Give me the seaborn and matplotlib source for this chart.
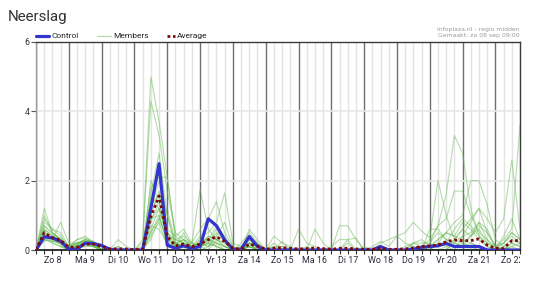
import numpy as np
import pandas as pd
import matplotlib
matplotlib.use("Agg")
import matplotlib.pyplot as plt
import seaborn as sns
from matplotlib.lines import Line2D
from matplotlib.transforms import Bbox

# ---------------- data (6-hourly steps, starting zo 08 sep 00:00) ----------------
day_labels = ["Zo 8", "Ma 9", "Di 10", "Wo 11", "Do 12", "Vr 13", "Za 14", "Zo 15",
              "Ma 16", "Di 17", "Wo 18", "Do 19", "Vr 20", "Za 21", "Zo 22"]

control = [0, 0.38, 0.35, 0.25,  0.03, 0.02, 0.2, 0.19,  0.13, 0.02, 0, 0,
           0, 0, 1.2, 2.49,  0.14, 0.05, 0.12, 0.05,  0.1, 0.9, 0.7, 0.29,
           0.02, 0.02, 0.39, 0.1,  0, 0, 0, 0,  0, 0, 0, 0,  0, 0, 0, 0,
           0, 0, 0.1, 0,  0, 0, 0.02, 0.08,  0.1, 0.12, 0.19, 0.1,
           0.1, 0.1, 0.1, 0,  0, 0, 0, 0]

average = [0, 0.5, 0.35, 0.28,  0.08, 0.08, 0.17, 0.17,  0.1, 0.03, 0.03, 0.03,
           0.01, 0.02, 0.96, 1.56,  0.39, 0.12, 0.17, 0.1,  0.17, 0.3, 0.38, 0.25,
           0.05, 0.02, 0.17, 0.12,  0.02, 0.05, 0.07, 0.05,  0.03, 0.04, 0.06, 0.04,
           0.02, 0.05, 0.05, 0.03,  0.02, 0.02, 0.05, 0.02,  0.02, 0.03, 0.06, 0.1,
           0.12, 0.14, 0.24, 0.29,  0.27, 0.27, 0.32, 0.14,  0.05, 0.05, 0.27, 0.27]

member_01 = [0, 1.2, 0.5, 0.3,  0.1, 0.2, 0.3, 0.2,  0, 0, 0, 0,  0, 0.3, 5.0, 3.7,
             2.1, 0.3, 0.2, 0.1,  0.3, 0.2, 0.1, 0,  0, 0, 0.2, 0.1,  0, 0.1, 0, 0,
             0, 0, 0, 0,  0, 0, 0, 0,  0, 0, 0.1, 0,  0, 0, 0, 0,
             0.2, 0.5, 0.3, 0.2,  0.1, 0.2, 0.1, 0,  0, 0, 0.2, 0.1]
member_02 = [0, 0.9, 0.6, 0.4,  0.1, 0.3, 0.4, 0.2,  0, 0, 0.1, 0,  0, 0.2, 4.3, 3.3,
             1.7, 0.5, 0.3, 0.1,  0.2, 0.1, 0.4, 0.3,  0, 0.1, 0.3, 0.1,  0, 0.4, 0.2, 0.1,
             0, 0.1, 0, 0,  0, 0, 0, 0,  0, 0, 0, 0,  0, 0, 0.2, 0.3,
             0.1, 0.3, 0.5, 0.4,  0.8, 0.6, 0.3, 0.1,  0, 0.2, 0.5, 0.3]
member_03 = [0, 0.7, 0.5, 0.3,  0.05, 0.15, 0.3, 0.25,  0, 0, 0, 0,  0, 0.1, 1.8, 2.1,
             2.1, 0.4, 0.6, 0.2,  1.75, 0.6, 0.3, 0.1,  0, 0, 0.1, 0,  0, 0, 0, 0,
             0, 0, 0, 0,  0, 0, 0, 0,  0, 0, 0, 0,  0, 0, 0.1, 0,
             0, 0.2, 0.1, 0,  0, 0, 0, 0,  0, 0, 0, 0]
member_04 = [0, 0.6, 0.4, 0.25,  0.1, 0.2, 0.2, 0.15,  0, 0, 0, 0,  0, 0, 1.2, 2.0,
             1.0, 0.2, 0.1, 0.2,  0.6, 0.9, 1.4, 0.5,  0.1, 0, 0.2, 0.1,  0, 0, 0, 0,
             0.6, 0.2, 0.1, 0,  0, 0, 0, 0,  0, 0, 0, 0,  0, 0, 0, 0,
             0, 0, 0, 0,  0, 0, 0, 0,  0, 0.1, 0.3, 0.2]
member_05 = [0, 0.5, 0.35, 0.2,  0, 0.1, 0.25, 0.2,  0, 0, 0, 0,  0, 0, 1.0, 1.7,
             0.5, 0.1, 0.3, 0.1,  0.4, 0.5, 0.8, 1.65,  0.2, 0.1, 0.3, 0.1,  0, 0, 0, 0,
             0, 0, 0.6, 0.2,  0, 0, 0, 0,  0, 0, 0, 0,  0, 0, 0, 0,
             0, 0, 0, 0,  0, 0, 0, 0,  0, 0, 0, 0]
member_06 = [0, 0.4, 0.3, 0.2,  0, 0.1, 0.2, 0.15,  0, 0, 0, 0,  0, 0, 0.8, 1.4,
             0.3, 0.1, 0.2, 0,  0.3, 0.3, 0.2, 0.1,  0, 0, 0.2, 0,  0, 0, 0, 0,
             0, 0, 0, 0,  0, 0, 0, 0,  0, 0, 0, 0,  0, 0, 0, 0.1,
             0.3, 0.7, 1.6, 3.3,  2.8, 1.2, 0.4, 0.1,  0, 0, 0.1, 0]
member_07 = [0, 0.3, 0.25, 0.2,  0, 0.15, 0.3, 0.2,  0, 0, 0.3, 0.1,  0, 0, 0.6, 1.2,
             0.5, 0.3, 0.4, 0.2,  0.1, 0.3, 0.2, 0,  0, 0, 0.1, 0,  0, 0.1, 0.1, 0,
             0, 0, 0, 0,  0, 0, 0, 0,  0, 0, 0.2, 0.3,  0.4, 0.5, 0.8, 0.55,
             0.35, 2.0, 1.0, 0.3,  0.2, 0.1, 0, 0,  0, 0, 0, 0]
member_08 = [0, 0.8, 0.6, 0.5,  0.1, 0.2, 0.25, 0.2,  0, 0, 0, 0,  0, 0, 0.5, 0.9,
             0.3, 0.2, 0.1, 0.05,  0.1, 0.2, 0.5, 0.3,  0.1, 0, 0.15, 0,  0, 0.2, 0, 0,
             0, 0, 0, 0,  0, 0, 0, 0,  0, 0, 0, 0,  0, 0.1, 0.2, 0.2,
             0.2, 0.7, 0.9, 1.7,  1.7, 1.0, 0.5, 0.3,  0.1, 0.2, 0.4, 0.2]
member_09 = [0, 0.5, 0.3, 0.8,  0.2, 0.2, 0.3, 0.2,  0, 0, 0, 0,  0, 0, 1.5, 1.2,
             0.4, 0.3, 0.2, 0.1,  0.2, 0.4, 0.3, 0.2,  0, 0, 0.1, 0,  0, 0, 0, 0,
             0, 0, 0, 0,  0, 0, 0, 0,  0, 0, 0, 0,  0, 0, 0, 0,
             0, 0.2, 0.5, 0.8,  1.0, 2.0, 2.0, 1.3,  0.3, 0.1, 0, 0]
member_10 = [0, 0.35, 0.3, 0.15,  0, 0.1, 0.15, 0.1,  0, 0, 0, 0,  0, 0, 0.9, 1.0,
             0.2, 0.1, 0.1, 0,  0.1, 0.2, 0.6, 0.3,  0, 0, 0.6, 0.3,  0, 0, 0, 0,
             0, 0, 0, 0,  0.1, 0.3, 0.3, 0.35,  0, 0, 0, 0,  0, 0, 0, 0,
             0, 0, 0.1, 0.3,  0.6, 0.9, 1.2, 0.9,  0.5, 0.9, 2.6, 0.6]
member_11 = [0, 0.6, 0.4, 0.3,  0.05, 0.1, 0.2, 0.2,  0, 0, 0.1, 0,  0, 0, 0.5, 1.0,
             0.2, 0.2, 0.3, 0.1,  0.1, 0.2, 0.1, 0,  0, 0, 0.2, 0,  0, 0, 0, 0,
             0, 0, 0, 0,  0, 0, 0, 0,  0, 0, 0, 0,  0, 0, 0, 0,
             0, 0, 0, 0.2,  0.4, 0.5, 0.8, 0.6,  0.1, 0.3, 0.6, 3.6]
member_12 = [0, 0.45, 0.2, 0.1,  0, 0.05, 0.1, 0.1,  0, 0, 0, 0,  0, 0, 0.4, 0.8,
             0.1, 0.05, 0.1, 0,  0, 0, 0.3, 0.1,  0, 0, 0.1, 0,  0, 0, 0, 0,
             0, 0, 0, 0,  0, 0.7, 0.7, 0.3,  0, 0, 0, 0,  0, 0, 0, 0,
             0.1, 0.3, 0.5, 0.4,  0.3, 0.2, 0.1, 0,  0, 0, 0, 0]
member_13 = [0, 0.3, 0.2, 0.1,  0, 0.1, 0.2, 0.15,  0, 0, 0, 0,  0, 0, 1.3, 1.6,
             0.6, 0.4, 0.2, 0.1,  0.2, 0.1, 0.2, 0.1,  0, 0.2, 0.5, 0.2,  0, 0, 0.25, 0,
             0, 0, 0, 0,  0, 0, 0.2, 0,  0.1, 0, 0, 0,  0, 0, 0, 0,
             0, 0, 0, 0.3,  0.6, 0.4, 0.8, 0.3,  0, 0.4, 0.9, 0.3]
member_14 = [0, 1.0, 0.5, 0.3,  0.05, 0.2, 0.25, 0.15,  0, 0, 0, 0,  0, 0, 0.7, 0.6,
             0.2, 0.1, 0.5, 0.1,  0.2, 0.3, 0.7, 0.4,  0, 0, 0.3, 0.1,  0, 0, 0, 0,
             0, 0, 0, 0,  0, 0, 0, 0,  0, 0, 0, 0,  0, 0, 0, 0,
             0.6, 0.6, 0.3, 0.2,  0.1, 0.4, 0.6, 0.2,  0.1, 0, 0.2, 0.1]
member_15 = [0, 0.25, 0.4, 0.3,  0.1, 0.1, 0.15, 0.1,  0, 0, 0, 0,  0, 0, 0.3, 0.9,
             1.2, 0.2, 0.1, 0,  0, 0.1, 0.4, 0.8,  0.1, 0, 0.2, 0.1,  0, 0, 0, 0,
             0, 0, 0, 0,  0, 0, 0, 0,  0, 0, 0, 0,  0, 0, 0.2, 0.1,
             0, 0.2, 0.2, 0.6,  0.9, 0.7, 0.4, 0.2,  0, 0, 0.1, 0.2]
member_16 = [0, 0.7, 0.45, 0.35,  0.1, 0.3, 0.35, 0.25,  0, 0, 0, 0,  0, 0, 2.0, 1.4,
             0.5, 0.2, 0.1, 0.05,  0.1, 0, 0, 0,  0, 0.1, 0.4, 0.2,  0, 0, 0, 0,
             0, 0, 0, 0,  0, 0, 0, 0,  0, 0.1, 0.25, 0.1,  0.4, 0.2, 0.1, 0,
             0, 0, 0, 0,  0, 0, 0, 0,  0, 0, 0, 0]
member_17 = [0, 0.55, 0.3, 0.2,  0, 0.1, 0.2, 0.1,  0, 0, 0, 0,  0, 0, 1.6, 2.8,
             1.0, 0.1, 0, 0,  0.1, 0.3, 0.1, 0,  0, 0, 0.2, 0,  0, 0, 0, 0,
             0, 0, 0, 0,  0, 0, 0, 0,  0, 0, 0, 0,  0, 0, 0, 0,
             0, 0, 0, 0,  0.4, 0.8, 1.2, 0.5,  0.1, 0.2, 0.5, 0.3]
member_18 = [0, 0.3, 0.25, 0.2,  0.05, 0.15, 0.2, 0.1,  0, 0, 0, 0,  0, 0, 0.9, 1.2,
             0.3, 0.2, 0.3, 0.2,  0.1, 0.4, 0.3, 0.2,  0, 0, 0.1, 0,  0, 0, 0.1, 0,
             0, 0, 0, 0,  0, 0, 0.3, 0,  0, 0, 0, 0,  0, 0, 0, 0,
             0.1, 0.1, 0.2, 0.1,  0.2, 0.4, 0.7, 0.5,  0.1, 0, 0, 0]

members = [member_01, member_02, member_03, member_04, member_05, member_06,
           member_07, member_08, member_09, member_10, member_11, member_12,
           member_13, member_14, member_15, member_16, member_17, member_18]

# time axis in days (6-hourly steps)
t = np.arange(len(control)) * 0.25

rows = []
for k, m in enumerate(members):
    for ti, v in zip(t, m):
        rows.append({"t": ti, "value": v, "member": k})
df_members = pd.DataFrame(rows)

# ---------------- style ----------------
sns.set_style("white")
plt.rcParams["font.family"] = ["Roboto", "DejaVu Sans"]

fig = plt.figure(figsize=(5.4, 2.83), dpi=100)
W, H = 540, 283
ax = fig.add_axes([36 / W, 33 / H, 484 / W, 208 / H])

n_days = len(day_labels)
xmax = t[-1]

# grid
for q in np.arange(0, xmax + 0.01, 0.25):
    if abs(q - round(q)) < 1e-9:
        ax.axvline(q, color="#6e6e6e", lw=1.0, zorder=1)
    else:
        ax.axvline(q, color="#e4e4e4", lw=1.0, zorder=1)
for yv in [2, 4]:
    ax.axhline(yv, color="#e8e8e8", lw=1.2, zorder=1)

# members
sns.lineplot(data=df_members, x="t", y="value", units="member", estimator=None,
             color="#62b84e", alpha=0.48, lw=0.8, ax=ax, legend=False, zorder=2)
# control
sns.lineplot(x=t, y=control, color="#3434cf", lw=2.3, ax=ax, zorder=4)
# average
sns.lineplot(x=t, y=average, color="#7a0a0a", lw=2.0, linestyle=(0, (1.0, 1.0)),
             ax=ax, zorder=5)

ax.set_xlim(0, xmax)
ax.set_ylim(0, 6)
ax.set_xlabel("")
ax.set_ylabel("")

ax.set_yticks([0, 2, 4, 6])
ax.set_yticklabels(["0", "2", "4", "6"])
noon = np.arange(n_days) + 0.5
ax.set_xticks(noon)
ax.set_xticklabels(day_labels)
ax.set_xticks([q for q in np.arange(0, xmax + 0.01, 0.25) if abs((q % 1) - 0.5) > 1e-9],
              minor=True)
ax.tick_params(axis="x", which="both", direction="out", length=3, width=0.8,
               color="#333333", pad=1.5, labelsize=6.4, labelcolor="#2a2a3a",
               bottom=True)
ax.tick_params(axis="y", which="both", direction="out", length=3.5, width=0.8,
               color="#555555", pad=1.2, labelsize=6.3, labelcolor="#333333", left=True)

for side in ["top", "right"]:
    ax.spines[side].set_color("#3a3a3a")
    ax.spines[side].set_linewidth(1.0)
ax.spines["left"].set_color("#9a9a9a")
ax.spines["left"].set_linewidth(1.0)
ax.spines["bottom"].set_color("#111111")
ax.spines["bottom"].set_linewidth(1.2)

# clip the last day label at the right edge, like the original
clip_bbox = Bbox.from_extents(0, 0, 520, H)
for lbl in ax.get_xticklabels():
    lbl.set_clip_on(True)
    lbl.set_clip_box(clip_bbox)

# title and notes
fig.text(8 / W, 1 - 21.5 / H, "Neerslag", fontsize=10.8, color="#333333",
         va="baseline", ha="left")
fig.text(520 / W, 1 - 29.5 / H, "Infoplaza.nl - regio midden", fontsize=4.4,
         color="#9a9a9a", ha="right", va="center", family=["DejaVu Sans"])
fig.text(520 / W, 1 - 35.5 / H, "Gemaakt: zo 08 sep 09:00", fontsize=4.4,
         color="#9a9a9a", ha="right", va="center", family=["DejaVu Sans"])

# legend (manual, in figure pixels)
ly = 1 - 36 / H
fig.add_artist(Line2D([36 / W, 49 / W], [ly, ly], color="#3434cf", lw=2.3))
fig.text(51 / W, ly, "Control", fontsize=6, color="#222222", va="center")
fig.add_artist(Line2D([97 / W, 111 / W], [ly, ly], color="#62b84e", alpha=0.5, lw=0.9))
fig.text(113 / W, ly, "Members", fontsize=6, color="#222222", va="center")
fig.add_artist(Line2D([167 / W, 175 / W], [ly, ly], color="#7a0a0a", lw=2.0,
                      linestyle=(0, (1.0, 1.0))))
fig.text(177 / W, ly, "Average", fontsize=6, color="#222222", va="center")

fig.savefig("out.png", dpi=100)
